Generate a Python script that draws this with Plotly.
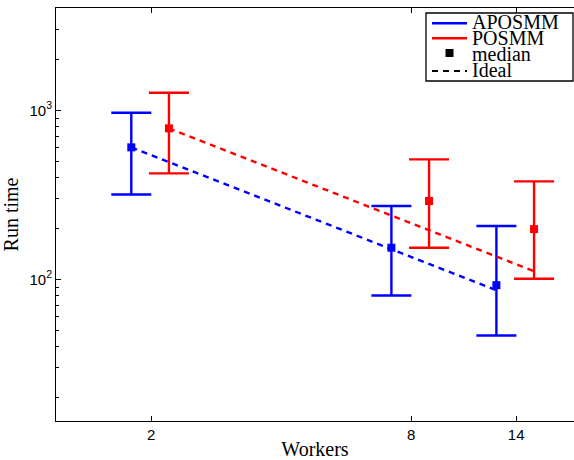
import plotly.graph_objects as go

# Worker counts and run-time statistics (median and spread) per method
workers = [2, 8, 14]

aposmm_median = [604, 154, 92.5]
aposmm_high = [968, 272, 207]
aposmm_low = [318, 80.4, 46.6]

posmm_median = [782, 291, 198.5]
posmm_high = [1271, 513, 380]
posmm_low = [424, 154, 101]

# Ideal (perfect scaling) run times at each dodged position
aposmm_ideal = [604, 151, 86.3]
posmm_ideal = [782, 195.5, 111.7]

x_ticks = [2, 8, 14]
x_tick_text = ["2", "8", "14"]
y_ticks = [100, 1000]
y_tick_text = ["10<sup>2</sup>", "10<sup>3</sup>"]

BLUE = "#0000FF"
RED = "#FF0000"
SERIF = "Liberation Serif, Times New Roman, serif"
SANS = "Liberation Sans, Arial, sans-serif"

# Multiplicative dodge so both methods sit side by side on the log axis
DODGE = 1.1
x_apo = [w / DODGE * 0.99 for w in workers]
x_pos = [w * DODGE for w in workers]


def error_trace(x, med, hi, lo, color):
    return go.Scatter(
        x=x, y=med, mode="markers",
        marker=dict(symbol="square", size=8, color=color),
        error_y=dict(
            type="data", symmetric=False,
            array=[h - m for h, m in zip(hi, med)],
            arrayminus=[m - l for m, l in zip(med, lo)],
            color=color, thickness=2.4, width=20,
        ),
        showlegend=False, hoverinfo="skip",
    )


def ideal_trace(x, y, color):
    return go.Scatter(
        x=x, y=y, mode="lines",
        line=dict(color=color, width=2.4, dash="6px,5px"),
        showlegend=False, hoverinfo="skip",
    )


fig = go.Figure()
fig.add_trace(error_trace(x_apo, aposmm_median, aposmm_high, aposmm_low, BLUE))
fig.add_trace(error_trace(x_pos, posmm_median, posmm_high, posmm_low, RED))
fig.add_trace(ideal_trace(x_apo, aposmm_ideal, BLUE))
fig.add_trace(ideal_trace(x_pos, posmm_ideal, RED))

W, H = 574, 460
L, R, T, B = 56, 0, 8, 39
PW, PH = W - L - R, H - T - B


def px(x):
    return (x - L) / PW


def py(y):
    return (H - B - y) / PH


minor_y = [v * m for m in (10, 100, 1000) for v in range(2, 10)]

fig.update_layout(
    width=W, height=H,
    margin=dict(l=L, r=R, t=T, b=B, pad=0),
    paper_bgcolor="white", plot_bgcolor="white",
    xaxis=dict(
        type="log", range=[0.081, 1.280],
        tickmode="array", tickvals=x_ticks, ticktext=x_tick_text,
        ticks="inside", ticklen=5, tickwidth=1, tickcolor="black",
        showline=True, linecolor="black", linewidth=1, mirror="ticks",
        showgrid=False, zeroline=False,
        tickfont=dict(family=SANS, size=15, color="black"),
        title=dict(text="Workers", font=dict(family=SERIF, size=20, color="black"), standoff=2),
    ),
    yaxis=dict(
        type="log", range=[1.163, 3.605],
        tickmode="array", tickvals=y_ticks, ticktext=y_tick_text,
        ticks="inside", ticklen=5, tickwidth=1, tickcolor="black",
        minor=dict(tickmode="array", tickvals=minor_y, ticks="inside", ticklen=3,
                   tickwidth=1, tickcolor="black", showgrid=False),
        showline=True, linecolor="black", linewidth=1, mirror=False,
        showgrid=False, zeroline=False,
        tickfont=dict(family=SANS, size=15, color="black"),
        title=dict(text="Run time", font=dict(family=SERIF, size=20, color="black"), standoff=6),
    ),
)

# Legend box drawn in the upper-right corner of the axes
fig.add_shape(type="rect", xref="paper", yref="paper",
              x0=px(426), x1=px(573), y0=py(81), y1=py(13),
              line=dict(color="black", width=1.3), fillcolor="white", layer="above")

legend_rows = [
    ("APOSMM", "line", BLUE, 23.3, 21.5),
    ("POSMM", "line", RED, 38.3, 38.0),
    ("median", "square", "black", 53.0, 54.5),
    ("Ideal", "dash", "black", 71.0, 70.0),
]
for label, kind, color, ys, yt in legend_rows:
    if kind == "square":
        fig.add_shape(type="rect", xref="paper", yref="paper",
                      x0=px(445.5), x1=px(453.5), y0=py(57), y1=py(49),
                      line=dict(width=0), fillcolor=color, layer="above")
    else:
        fig.add_shape(type="line", xref="paper", yref="paper",
                      x0=px(432), x1=px(467), y0=py(ys), y1=py(ys),
                      line=dict(color=color, width=2.4 if kind == "line" else 2.2,
                                dash="solid" if kind == "line" else "6px,5px"),
                      layer="above")
    fig.add_annotation(text=label, xref="paper", yref="paper",
                       x=px(470), y=py(yt), xanchor="left", yanchor="middle",
                       showarrow=False,
                       font=dict(family=SERIF, size=20, color="black"))

fig.write_html("out.html")
